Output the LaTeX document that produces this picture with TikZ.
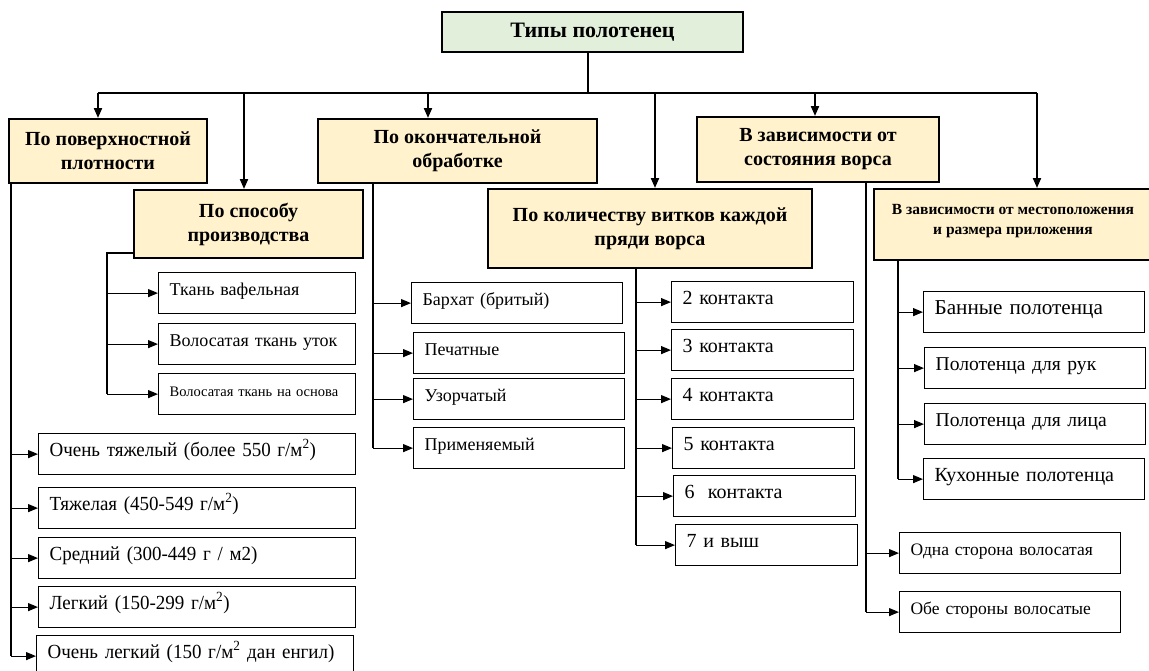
\documentclass[tikz,border=0pt]{standalone}
\usepackage{fontspec}
\setmainfont{Liberation Serif}
\newfontfamily\densfont{Liberation Serif}[FakeStretch=0.95,WordSpace=0.6]
\usetikzlibrary{arrows.meta}

\definecolor{headfill}{HTML}{FFF2CC}
\definecolor{topfill}{HTML}{E2EFDA}

\tikzset{
  headbox/.style={draw=black,fill=headfill,line width=2pt,align=center,inner sep=0pt,font=\fontsize{20}{24}\selectfont\bfseries},
  leafbox/.style={draw=black,line width=1.2pt,anchor=north west,align=left,inner xsep=11pt,inner ysep=0pt,minimum height=41pt,text height=14pt,text depth=10pt},
  busline/.style={line width=2pt},
  spine/.style={line width=1.2pt},
  arr/.style={-{Triangle[length=10pt,width=8pt]}},
}

\begin{document}
\begin{tikzpicture}[x=1pt,y=-1pt]
\useasboundingbox (0,0) rectangle (1149,670);

% headers
\node[headbox,fill=topfill,minimum width=301pt,minimum height=40pt,font=\fontsize{22}{26}\selectfont\bfseries] (top) at (592.5,32) {Типы полотенец};
\node[headbox,minimum width=198pt,minimum height=64pt] (dens) at (108,151) {По поверхностной\\плотности};
\node[headbox,minimum width=229pt,minimum height=68pt] (prod) at (248.5,224) {По способу\\производства};
\node[headbox,minimum width=279pt,minimum height=64pt] (finish) at (457.5,151) {По окончательной\\обработке};
\node[headbox,minimum width=324pt,minimum height=79pt] (loops) at (650,228.5) {По количеству витков каждой\\пряди ворса};
\node[headbox,minimum width=242pt,minimum height=65pt] (pile) at (818,149.5) {В зависимости от\\состояния ворса};
\node[headbox,minimum width=278pt,minimum height=71pt,font=\fontsize{15.5}{20}\selectfont\bfseries,text height=22pt,text depth=2pt] (place) at (1013,224.5) {В зависимости от местоположения\\и размера приложения};

% by production
\node[leafbox,text width=175pt,font=\fontsize{18}{20}\selectfont] (w1) at (158,272) {Ткань вафельная};
\node[leafbox,text width=175pt,font=\fontsize{18}{20}\selectfont] (w2) at (158,323) {Волосатая ткань уток};
\node[leafbox,text width=175pt,font=\fontsize{14.5}{18}\selectfont] (w3) at (158,373) {Волосатая ткань на основа};

% by density
\node[leafbox,text width=295pt,font=\densfont\fontsize{20}{22}\selectfont] (v1) at (38,433) {Очень тяжелый (более 550 г/м\textsuperscript{2})};
\node[leafbox,text width=295pt,font=\densfont\fontsize{20}{22}\selectfont] (v2) at (38,487) {Тяжелая (450-549 г/м\textsuperscript{2})};
\node[leafbox,text width=295pt,font=\densfont\fontsize{20}{22}\selectfont] (v3) at (38,537) {Средний (300-449 г / м2)};
\node[leafbox,text width=295pt,font=\densfont\fontsize{20}{22}\selectfont] (v4) at (38,586) {Легкий (150-299 г/м\textsuperscript{2})};
\node[leafbox,text width=295pt,font=\densfont\fontsize{20}{22}\selectfont] (v5) at (36,635) {\mbox{Очень легкий (150 г/м\textsuperscript{2} дан енгил)}};

% by finishing
\node[leafbox,text width=189pt,font=\fontsize{18}{20}\selectfont] (b1) at (411,282) {Бархат (бритый)};
\node[leafbox,text width=189pt,font=\fontsize{18}{20}\selectfont] (b2) at (413,332) {Печатные};
\node[leafbox,text width=189pt,font=\fontsize{18}{20}\selectfont] (b3) at (413,378) {Узорчатый};
\node[leafbox,text width=189pt,font=\fontsize{18}{20}\selectfont] (b4) at (413,427) {Применяемый};

% by loops
\node[leafbox,text width=160pt,font=\fontsize{20}{22}\selectfont] (k2) at (671,281) {2 контакта};
\node[leafbox,text width=160pt,font=\fontsize{20}{22}\selectfont] (k3) at (671,329) {3 контакта};
\node[leafbox,text width=160pt,font=\fontsize{20}{22}\selectfont] (k4) at (671,378) {4 контакта};
\node[leafbox,text width=160pt,font=\fontsize{20}{22}\selectfont] (k5) at (672,427) {5 контакта};
\node[leafbox,text width=160pt,font=\fontsize{20}{22}\selectfont] (k6) at (673,475) {6~~контакта};
\node[leafbox,text width=160pt,font=\fontsize{20}{22}\selectfont] (k7) at (675,524) {7 и выш};

% by place
\node[leafbox,text width=199pt,font=\fontsize{21.2}{24}\selectfont] (r1) at (923,291) {Банные полотенца};
\node[leafbox,text width=199pt,font=\fontsize{19.6}{22}\selectfont] (r2) at (924,347) {Полотенца для рук};
\node[leafbox,text width=199pt,font=\fontsize{19.6}{22}\selectfont] (r3) at (924,403) {Полотенца для лица};
\node[leafbox,text width=199pt,font=\fontsize{20}{22}\selectfont] (r4) at (923,458) {Кухонные полотенца};

% by pile
\node[leafbox,text width=199pt,font=\fontsize{17.5}{20}\selectfont] (s1) at (899,532) {Одна сторона волосатая};
\node[leafbox,text width=199pt,font=\fontsize{17.5}{20}\selectfont] (s2) at (899,591) {Обе стороны волосатые};

% bus
\coordinate (d1) at (98,93);
\coordinate (d2) at (244,93);
\coordinate (d3) at (428,93);
\coordinate (d4) at (655,93);
\coordinate (d5) at (815,93);
\coordinate (d6) at (1037,93);
\draw[busline] (d1) -- (d6);
\draw[busline] ([xshift=-4.5pt]top.south) -- ([xshift=-4.5pt]top.south |- d1);
\draw[busline,arr] (d1) -- (d1 |- dens.north);
\draw[busline,arr] (d2) -- (d2 |- prod.north);
\draw[busline,arr] (d3) -- (d3 |- finish.north);
\draw[busline,arr] (d4) -- (d4 |- loops.north);
\draw[busline,arr] (d5) -- (d5 |- pile.north);
\draw[busline,arr] (d6) -- (d6 |- place.north);

% spines
\coordinate (densSp) at ([xshift=3pt]dens.south west);
\coordinate (prodSp) at (107,253);
\coordinate (finSp) at (373,183);
\coordinate (loopSp) at (636,268);
\coordinate (pileSp) at (866,182);
\coordinate (placeSp) at (898,260);

\draw[spine] (densSp) -- (densSp |- v5.west);
\foreach \n in {v1,v2,v3,v4,v5}
  \draw[spine,arr] (densSp |- \n.west) -- (\n.west);

\draw[spine] (prodSp -| prod.west) -- (prodSp) -- (prodSp |- w3.west);
\foreach \n in {w1,w2,w3}
  \draw[spine,arr] (prodSp |- \n.west) -- (\n.west);

\draw[spine] (finSp) -- (finSp |- b4.west);
\foreach \n in {b1,b2,b3,b4}
  \draw[spine,arr] (finSp |- \n.west) -- (\n.west);

\draw[spine] (loopSp) -- (loopSp |- k7.west);
\foreach \n in {k2,k3,k4,k5,k6,k7}
  \draw[spine,arr] (loopSp |- \n.west) -- (\n.west);

\draw[spine] (pileSp) -- (pileSp |- s2.west);
\foreach \n in {s1,s2}
  \draw[spine,arr] (pileSp |- \n.west) -- (\n.west);

\draw[spine] (placeSp) -- (placeSp |- r4.west);
\foreach \n in {r1,r2,r3,r4}
  \draw[spine,arr] (placeSp |- \n.west) -- (\n.west);
\end{tikzpicture}
\end{document}
